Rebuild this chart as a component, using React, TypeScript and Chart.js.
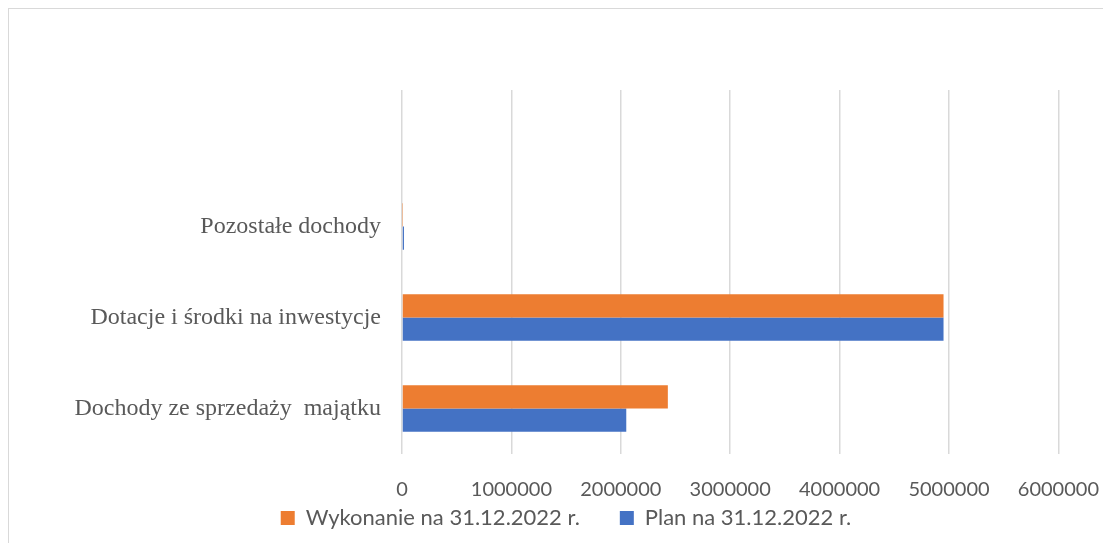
import React, { useEffect, useRef } from "react";
import { Chart, registerables } from "chart.js";

Chart.register(...registerables);

const categories = ["", "Pozostałe dochody", "Dotacje i środki na inwestycje", "Dochody ze sprzedaży  majątku"];
const wykonanie = [null, 3000, 4950000, 2430000];
const plan = [null, 18000, 4950000, 2050000];
const xTicks = [0, 1000000, 2000000, 3000000, 4000000, 5000000, 6000000];

const legendShift = {
  id: "legendShift",
  afterLayout(chart: any) {
    if (chart.legend) {
      chart.legend.top -= 59;
      chart.legend.bottom -= 59;
    }
  },
};

export default function App() {
  const ref = useRef<HTMLCanvasElement | null>(null);
  useEffect(() => {
    if (!ref.current) return;
    const chart = new Chart(ref.current, {
      type: "bar",
      data: {
        labels: categories,
        datasets: [
          { label: "Wykonanie na 31.12.2022 r.", data: wykonanie as any, backgroundColor: "#ED7D31", categoryPercentage: 0.51, barPercentage: 1 },
          { label: "Plan na 31.12.2022 r.", data: plan as any, backgroundColor: "#4472C4", categoryPercentage: 0.51, barPercentage: 1 },
        ],
      },
      plugins: [legendShift],
      options: {
        indexAxis: "y",
        animation: false,
        responsive: false,
        maintainAspectRatio: false,
        layout: { padding: { top: 81, left: 0, right: 0, bottom: -55 } },
        plugins: {
          tooltip: { enabled: false },
          legend: {
            position: "bottom",
            labels: {
              boxWidth: 14,
              boxHeight: 14,
              padding: 40,
              color: "#595959",
              font: { family: "Lato", size: 22 },
              generateLabels: (c: any) => {
                const items = Chart.defaults.plugins.legend.labels.generateLabels(c);
                items.forEach((it: any) => { it.lineWidth = 0; it.strokeStyle = "transparent"; });
                return items;
              },
            },
          },
        },
        scales: {
          x: {
            min: 0,
            max: 6000000,
            afterBuildTicks: (s: any) => { s.ticks = xTicks.map((v) => ({ value: v })); },
            grid: { color: "#d9d9d9", lineWidth: 1.5, drawTicks: false },
            border: { display: false },
            ticks: {
              color: "#595959",
              font: { family: "Lato", size: 20 },
              padding: 24,
              maxRotation: 0,
              autoSkip: false,
              callback: (v: any) => String(v),
            },
          },
          y: {
            grid: { display: false },
            border: { display: false },
            ticks: { color: "#595959", font: { family: "Liberation Serif", size: 24 }, padding: 13, autoSkip: false },
            afterFit: (s: any) => { s.width = 393; },
          },
        },
      },
    });
    return () => chart.destroy();
  }, []);
  return (
    <div style={{ width: 1103, height: 535, overflow: "hidden", borderLeft: "1px solid #d9d9d9", borderTop: "1px solid #d9d9d9", boxSizing: "border-box" }}>
      <canvas ref={ref} width={1114} height={534} style={{ display: "block" }} />
    </div>
  );
}
